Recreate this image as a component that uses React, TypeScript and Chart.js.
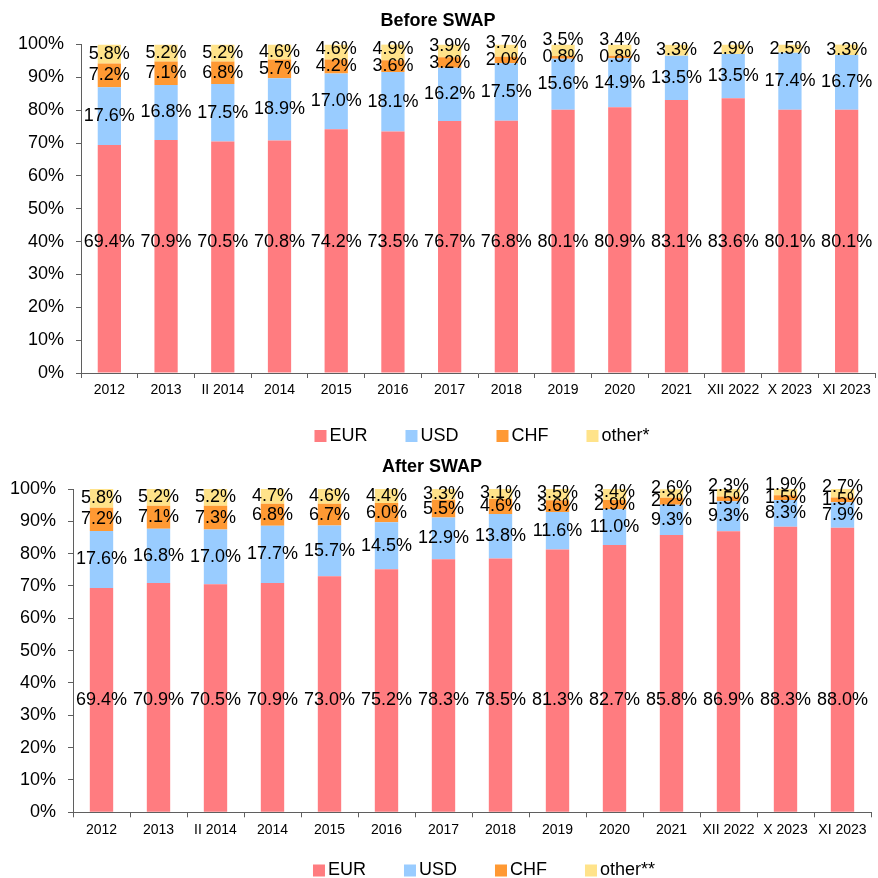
import React, { useEffect, useRef } from 'react';
import { Chart, registerables } from 'chart.js';

Chart.register(...registerables);

const FONT = '"Liberation Sans", Arial, Helvetica, sans-serif';

const categories = ['2012', '2013', 'II 2014', '2014', '2015', '2016', '2017', '2018', '2019', '2020', '2021', 'XII 2022', 'X 2023', 'XI 2023'];

// Currency structure before the swap (shares, %)
const beforeEur = [69.4, 70.9, 70.5, 70.8, 74.2, 73.5, 76.7, 76.8, 80.1, 80.9, 83.1, 83.6, 80.1, 80.1];
const beforeUsd = [17.6, 16.8, 17.5, 18.9, 17.0, 18.1, 16.2, 17.5, 15.6, 14.9, 13.5, 13.5, 17.4, 16.7];
const beforeChf = [7.2, 7.1, 6.8, 5.7, 4.2, 3.6, 3.2, 2.0, 0.8, 0.8, 0, 0, 0, 0];
const beforeOther = [5.8, 5.2, 5.2, 4.6, 4.6, 4.9, 3.9, 3.7, 3.5, 3.4, 3.3, 2.9, 2.5, 3.3];

// Currency structure after the swap (shares, %)
const afterEur = [69.4, 70.9, 70.5, 70.9, 73.0, 75.2, 78.3, 78.5, 81.3, 82.7, 85.8, 86.9, 88.3, 88.0];
const afterUsd = [17.6, 16.8, 17.0, 17.7, 15.7, 14.5, 12.9, 13.8, 11.6, 11.0, 9.3, 9.3, 8.3, 7.9];
const afterChf = [7.2, 7.1, 7.3, 6.8, 6.7, 6.0, 5.5, 4.6, 3.6, 2.9, 2.2, 1.5, 1.5, 1.5];
const afterOther = [5.8, 5.2, 5.2, 4.7, 4.6, 4.4, 3.3, 3.1, 3.5, 3.4, 2.6, 2.3, 1.9, 2.7];

const seriesNames = ['EUR', 'USD', 'CHF'];
const seriesColors = ['#FF7C80', '#99CCFF', '#FF9933', '#FFE38A'];

const Y_MIN = 0;
const Y_MAX = 100;
const Y_STEP = 10;

const AXIS_COLOR = '#5f5f5f';

// Percentage labels inside each stacked segment; the first series' labels sit on one line.
const segmentLabels = {
  id: 'segmentLabels',
  afterDatasetsDraw(chart: any, _args: any, opts: any) {
    const { ctx } = chart;
    const y = chart.scales.y;
    const n = chart.data.labels.length;
    ctx.save();
    ctx.font = `18px ${FONT}`;
    ctx.fillStyle = '#000';
    ctx.textAlign = 'center';
    ctx.textBaseline = 'middle';
    for (let i = 0; i < n; i++) {
      let prevY = Infinity;
      chart.data.datasets.forEach((ds: any, d: number) => {
        const v = ds.data[i];
        const el = chart.getDatasetMeta(d).data[i];
        if (!v || !el) return;
        let ly = d === 0 ? y.getPixelForValue(opts.firstLabelAt) : (el.y + el.base) / 2;
        if (ly > prevY - opts.minGap) ly = prevY - opts.minGap;
        ctx.fillText(v.toFixed(1) + '%', el.x, ly);
        prevY = ly;
      });
    }
    ctx.restore();
  },
};

const heading = {
  id: 'heading',
  afterDraw(chart: any, _args: any, opts: any) {
    const { ctx } = chart;
    ctx.save();
    ctx.font = `bold 18px ${FONT}`;
    ctx.fillStyle = '#000';
    ctx.textAlign = 'center';
    ctx.textBaseline = 'middle';
    ctx.fillText(opts.text, opts.x, opts.y);
    ctx.restore();
  },
};

const legendRow = {
  id: 'legendRow',
  afterDraw(chart: any, _args: any, opts: any) {
    const { ctx } = chart;
    ctx.save();
    ctx.font = `18px ${FONT}`;
    ctx.textAlign = 'left';
    ctx.textBaseline = 'middle';
    const box = 12;
    const gapText = 3;
    const items = chart.data.datasets.map((ds: any) => ({
      text: ds.label,
      color: ds.backgroundColor,
      w: box + gapText + ctx.measureText(ds.label).width,
    }));
    const total = items.reduce((s: number, it: any) => s + it.w, 0) + opts.gap * (items.length - 1);
    let x = opts.centerX - total / 2;
    items.forEach((it: any) => {
      ctx.fillStyle = it.color;
      ctx.fillRect(x, opts.y - box / 2, box, box);
      ctx.fillStyle = '#000';
      ctx.fillText(it.text, x + box + gapText, opts.y);
      x += it.w + opts.gap;
    });
    ctx.restore();
  },
};

type Frame = { top: number; left: number; right: number; bottom: number; xHeight: number };

type Props = {
  title: string;
  otherLabel: string;
  eur: number[];
  usd: number[];
  chf: number[];
  other: number[];
  height: number;
  frame: Frame;
  titlePos: { x: number; y: number };
  legendPos: { centerX: number; y: number };
  firstLabelAt: number;
  minGap: number;
};

function StackedShareChart(p: Props) {
  const ref = useRef<HTMLCanvasElement>(null);

  useEffect(() => {
    if (!ref.current) return;
    const values = [p.eur, p.usd, p.chf, p.other];
    const names = [...seriesNames, p.otherLabel];
    const chart = new Chart(ref.current, {
      type: 'bar',
      data: {
        labels: categories,
        datasets: values.map((data, i) => ({
          label: names[i],
          data,
          backgroundColor: seriesColors[i],
          borderWidth: 0,
          barPercentage: 0.41,
          categoryPercentage: 1,
        })),
      },
      options: {
        responsive: false,
        animation: false,
        devicePixelRatio: 1,
        layout: {
          padding: { top: p.frame.top, left: 0, right: p.frame.right, bottom: p.frame.bottom },
        },
        scales: {
          x: {
            stacked: true,
            offset: true,
            grid: {
              display: true,
              offset: true,
              drawOnChartArea: false,
              drawTicks: true,
              tickLength: 5,
              color: AXIS_COLOR,
            },
            border: { display: true, color: AXIS_COLOR },
            ticks: {
              autoSkip: false,
              maxRotation: 0,
              padding: 4,
              color: '#000',
              font: { family: FONT, size: 14 },
            },
            afterFit: (scale: any) => {
              scale.height = p.frame.xHeight;
            },
          },
          y: {
            stacked: true,
            min: Y_MIN,
            max: Y_MAX,
            grid: {
              display: true,
              drawOnChartArea: false,
              drawTicks: true,
              tickLength: 5,
              color: AXIS_COLOR,
            },
            border: { display: true, color: AXIS_COLOR },
            ticks: {
              stepSize: Y_STEP,
              padding: 12,
              color: '#000',
              font: { family: FONT, size: 18 },
              callback: (v: any) => `${v}%`,
            },
            afterFit: (scale: any) => {
              scale.width = p.frame.left;
            },
          },
        },
        plugins: {
          legend: { display: false },
          title: { display: false },
          tooltip: { enabled: false },
          heading: { text: p.title, x: p.titlePos.x, y: p.titlePos.y },
          legendRow: { centerX: p.legendPos.centerX, y: p.legendPos.y, gap: 38 },
          segmentLabels: { firstLabelAt: p.firstLabelAt, minGap: p.minGap },
        } as any,
      },
      plugins: [segmentLabels, heading, legendRow],
    });
    return () => chart.destroy();
  }, []);

  return <canvas ref={ref} width={878} height={p.height} style={{ display: 'block', width: 878, height: p.height }} />;
}

export default function App() {
  return (
    <div
      style={{
        position: 'absolute',
        left: 0,
        top: 0,
        width: 878,
        height: 878,
        overflow: 'hidden',
        background: '#fff',
      }}
    >
      <StackedShareChart
        title="Before SWAP"
        otherLabel="other*"
        eur={beforeEur}
        usd={beforeUsd}
        chf={beforeChf}
        other={beforeOther}
        height={455}
        frame={{ top: 44.5, left: 81, right: 3, bottom: 58, xHeight: 24 }}
        titlePos={{ x: 438, y: 21.5 }}
        legendPos={{ centerX: 482, y: 436 }}
        firstLabelAt={40}
        minGap={17}
      />
      <StackedShareChart
        title="After SWAP"
        otherLabel="other**"
        eur={afterEur}
        usd={afterUsd}
        chf={afterChf}
        other={afterOther}
        height={423}
        frame={{ top: 34, left: 73, right: 7, bottom: 41.7, xHeight: 24 }}
        titlePos={{ x: 432, y: 12 }}
        legendPos={{ centerX: 484, y: 415.5 }}
        firstLabelAt={34.7}
        minGap={13}
      />
    </div>
  );
}
